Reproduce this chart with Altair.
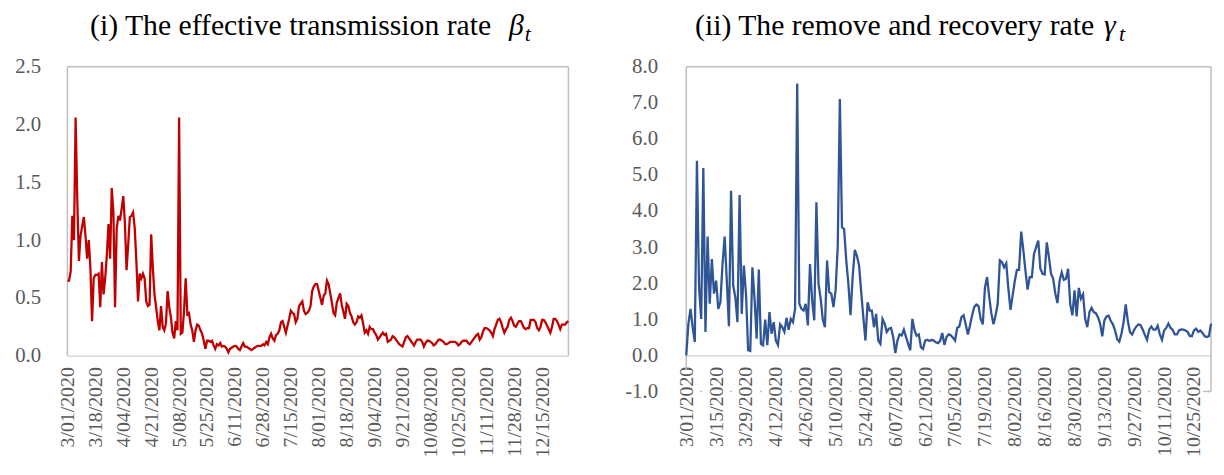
import altair as alt
import pandas as pd

# ---------------- data ----------------
# effective transmission rate beta_t, daily from 3/01/2020 to 12/31/2020
beta_values = [
    0.65, 0.65, 0.73, 1.21, 1.00, 2.06, 1.35, 0.82, 1.04, 1.12,
    1.20, 1.04, 0.84, 1.00, 0.76, 0.30, 0.67, 0.70, 0.70, 0.71,
    0.42, 0.81, 0.53, 0.67, 0.87, 1.14, 0.84, 1.45, 1.24, 0.42,
    1.10, 1.21, 1.17, 1.27, 1.38, 1.15, 0.74, 0.96, 1.20, 1.21,
    1.24, 1.10, 0.81, 0.47, 0.71, 0.67, 0.71, 0.67, 0.47, 0.43,
    0.44, 1.05, 0.76, 0.53, 0.42, 0.30, 0.22, 0.43, 0.25, 0.22,
    0.28, 0.56, 0.42, 0.33, 0.20, 0.15, 0.30, 0.22, 2.06, 0.19,
    0.20, 0.39, 0.67, 0.36, 0.37, 0.27, 0.22, 0.12, 0.22, 0.27,
    0.26, 0.22, 0.19, 0.13, 0.06, 0.13, 0.13, 0.12, 0.13, 0.09,
    0.06, 0.10, 0.09, 0.11, 0.08, 0.085, 0.08, 0.06, 0.03, 0.06,
    0.07, 0.08, 0.085, 0.08, 0.06, 0.05, 0.08, 0.11, 0.08, 0.08,
    0.07, 0.06, 0.05, 0.06, 0.07, 0.08, 0.085, 0.085, 0.085, 0.10,
    0.09, 0.12, 0.10, 0.16, 0.19, 0.15, 0.13, 0.18, 0.19, 0.22,
    0.29, 0.30, 0.25, 0.20, 0.26, 0.32, 0.39, 0.37, 0.36, 0.29,
    0.32, 0.43, 0.45, 0.47, 0.39, 0.36, 0.37, 0.39, 0.43, 0.56,
    0.60, 0.62, 0.62, 0.56, 0.50, 0.44, 0.52, 0.54, 0.65, 0.62,
    0.54, 0.46, 0.37, 0.35, 0.46, 0.50, 0.54, 0.44, 0.38, 0.32,
    0.45, 0.43, 0.37, 0.34, 0.29, 0.27, 0.29, 0.34, 0.33, 0.35,
    0.28, 0.20, 0.22, 0.19, 0.25, 0.23, 0.23, 0.20, 0.18, 0.14,
    0.16, 0.18, 0.20, 0.18, 0.19, 0.12, 0.13, 0.14, 0.17, 0.16,
    0.14, 0.12, 0.10, 0.09, 0.08, 0.12, 0.16, 0.17, 0.15, 0.13,
    0.11, 0.09, 0.12, 0.14, 0.14, 0.14, 0.12, 0.08, 0.11, 0.13,
    0.13, 0.12, 0.11, 0.09, 0.10, 0.12, 0.14, 0.14, 0.13, 0.12,
    0.10, 0.10, 0.11, 0.12, 0.12, 0.12, 0.12, 0.11, 0.09, 0.10,
    0.12, 0.13, 0.13, 0.13, 0.11, 0.10, 0.12, 0.14, 0.16, 0.18,
    0.19, 0.14, 0.16, 0.21, 0.24, 0.24, 0.23, 0.22, 0.20, 0.17,
    0.23, 0.27, 0.31, 0.32, 0.29, 0.24, 0.20, 0.23, 0.25, 0.31,
    0.33, 0.30, 0.26, 0.25, 0.28, 0.30, 0.30, 0.27, 0.24, 0.23,
    0.24, 0.24, 0.31, 0.31, 0.31, 0.29, 0.24, 0.22, 0.25, 0.31,
    0.31, 0.29, 0.26, 0.23, 0.20, 0.25, 0.32, 0.32, 0.30, 0.27,
    0.23, 0.27, 0.27, 0.27, 0.29, 0.30,
]

# remove and recovery rate gamma_t, daily from 3/01/2020 to 11/02/2020
gamma_values = [
    0.00, 0.88, 1.29, 0.78, 0.37, 5.39, 1.89, 1.01, 5.19, 0.65,
    3.29, 1.43, 2.67, 1.71, 2.07, 1.29, 1.47, 2.53, 3.29, 2.07,
    0.81, 4.56, 1.94, 1.61, 0.92, 4.44, 1.15, 2.49, 1.71, 0.14,
    0.12, 2.44, 1.57, 0.46, 2.38, 0.32, 0.28, 0.99, 0.28, 1.20,
    0.60, 0.92, 0.41, 0.29, 0.86, 0.78, 0.65, 1.04, 0.71, 1.01,
    0.92, 1.29, 7.53, 1.43, 1.29, 1.24, 1.43, 0.83, 2.53, 1.52,
    0.97, 4.24, 1.98, 1.57, 0.99, 0.78, 2.63, 1.75, 1.71, 1.34,
    1.80, 3.00, 7.10, 3.55, 3.50, 2.63, 1.98, 1.11, 2.17, 2.92,
    2.76, 2.49, 1.75, 1.06, 0.41, 1.47, 1.24, 1.24, 0.78, 1.15,
    0.41, 0.32, 1.01, 0.88, 0.65, 0.74, 0.76, 0.51, 0.06, 0.41,
    0.58, 0.55, 0.71, 0.51, 0.32, 0.14, 1.01, 0.70, 0.54, 0.58,
    0.23, 0.18, 0.41, 0.43, 0.40, 0.43, 0.41, 0.36, 0.34, 0.40,
    0.62, 0.29, 0.51, 0.58, 0.56, 0.49, 0.41, 0.76, 0.80, 1.06,
    1.11, 0.86, 0.58, 0.83, 1.11, 1.34, 1.41, 1.37, 1.01, 0.86,
    1.87, 2.17, 1.63, 1.17, 0.86, 1.11, 1.43, 2.63, 2.58, 2.44,
    2.55, 1.84, 1.26, 1.66, 2.06, 2.37, 2.37, 3.43, 2.92, 2.35,
    1.82, 2.17, 2.17, 2.81, 3.00, 3.18, 2.40, 2.26, 2.24, 3.13,
    2.72, 2.26, 2.12, 1.71, 1.45, 2.07, 2.30, 2.09, 2.12, 2.40,
    1.41, 1.11, 1.80, 1.08, 1.87, 1.57, 1.69, 1.01, 0.78, 1.20,
    1.32, 1.20, 1.17, 1.06, 0.88, 0.53, 0.97, 1.08, 1.10, 0.95,
    0.86, 0.69, 0.45, 0.38, 0.60, 0.92, 1.41, 0.95, 0.64, 0.58,
    0.71, 0.80, 0.86, 0.83, 0.71, 0.56, 0.43, 0.71, 0.80, 0.71,
    0.71, 0.82, 0.58, 0.43, 0.69, 0.76, 0.88, 0.76, 0.71, 0.58,
    0.58, 0.69, 0.72, 0.71, 0.69, 0.65, 0.54, 0.53, 0.69, 0.74,
    0.65, 0.69, 0.62, 0.53, 0.51, 0.53, 0.88,
]

beta_tick_days = list(range(0, 290, 17))     # 3/01 ... 12/15, every 17 days
gamma_tick_days = list(range(0, 239, 14))    # 3/01 ... 10/25, every 14 days
beta_y_ticks = [0.0, 0.5, 1.0, 1.5, 2.0, 2.5]
gamma_y_ticks = [-1, 0, 1, 2, 3, 4, 5, 6, 7, 8]

# ---------------- styling ----------------
FONT = "Liberation Serif"
LABEL_COLOR = "#595959"
FRAME = "#bfbfbf"
AXIS_LINE = "#d9d9d9"
X_LABEL_SIZE = 20
Y_LABEL_SIZE = 21
TITLE_SIZE = 30

W1, H1 = 506, 292
W2, H2 = 530, 328

# day index -> "m/dd/yyyy" (day 0 = 2020-03-01 UTC)
date_expr = "utcFormat(1583020800000 + datum.value * 86400000, '%-m/%d/%Y')"

one = alt.Data(values=[{}])

beta_df = pd.DataFrame({"day": list(range(len(beta_values))), "value": beta_values})
gamma_df = pd.DataFrame({"day": list(range(len(gamma_values))), "value": gamma_values})


def x_axis(values, **kw):
    return alt.Axis(
        values=values, labelExpr=date_expr, labelAngle=270, labelFlush=False,
        labelOverlap=False, ticks=False, grid=False, domainColor=AXIS_LINE,
        domainWidth=1.5, title=None, labelFont=FONT, labelFontSize=X_LABEL_SIZE,
        labelColor=LABEL_COLOR, **kw)


def y_axis(values, pad, **kw):
    return alt.Axis(
        values=values, ticks=False, domain=False, grid=False, title=None,
        labelFont=FONT, labelFontSize=Y_LABEL_SIZE, labelColor=LABEL_COLOR,
        labelPadding=pad, **kw)


def hrule(x1, x2, y, color=FRAME, **kw):
    return alt.Chart(one).mark_rule(color=color, strokeWidth=1.5, **kw).encode(
        x=alt.value(x1), x2=alt.value(x2), y=alt.value(y))


def vrule(x, y1, y2, color=FRAME, **kw):
    return alt.Chart(one).mark_rule(color=color, strokeWidth=1.5, **kw).encode(
        x=alt.value(x), y=alt.value(y1), y2=alt.value(y2))


def label(text, x, y, size, align="left", italic=False):
    props = dict(text=text, font=FONT, fontSize=size, align=align,
                 baseline="alphabetic", color="#000000")
    if italic:
        props["fontStyle"] = "italic"
    return alt.Chart(one).mark_text(**props).encode(x=alt.value(x), y=alt.value(y))


# ---------------- panel (i) ----------------
beta_line = alt.Chart(beta_df).mark_line(color="#C00000", strokeWidth=2.3).encode(
    x=alt.X("day:Q", scale=alt.Scale(domain=[0, len(beta_values) - 1], nice=False, zero=False),
            axis=x_axis(beta_tick_days, labelPadding=11)),
    y=alt.Y("value:Q", scale=alt.Scale(domain=[0, 2.5], nice=False),
            axis=y_axis(beta_y_ticks, 27, format=".1f")),
)

left = alt.layer(
    hrule(0, W1, 0), vrule(0, 0, H1), vrule(W1, 0, H1),
    beta_line,
    label("(i) The effective transmission rate", 428, -32, TITLE_SIZE, align="right"),
    label("β", 446, -32, TITLE_SIZE, italic=True),
    label("t", 462, -26, 22, italic=True),
).properties(width=W1, height=H1)

# ---------------- panel (ii) ----------------
zero_px = H2 * 8 / 9
period = 14 * W2 / (len(gamma_values) - 1)

gamma_line = alt.Chart(gamma_df).mark_line(color="#2F5597", strokeWidth=2.3).encode(
    x=alt.X("day:Q", scale=alt.Scale(domain=[0, len(gamma_values) - 1], nice=False, zero=False),
            axis=x_axis(gamma_tick_days, labelPadding=11, offset=-(H2 - zero_px))),
    y=alt.Y("value:Q", scale=alt.Scale(domain=[-1, 8], nice=False),
            axis=y_axis(gamma_y_ticks, 29,
                        labelExpr="datum.value < 0 ? '-' + format(-datum.value, '.1f') : format(datum.value, '.1f')")),
)

right = alt.layer(
    hrule(0, W2, 0), vrule(W2, 0, H2), vrule(0, 0, zero_px + 14),
    hrule(0, W2, H2, strokeDash=[2, period - 2], strokeDashOffset=period / 2 + 1),
    hrule(W2 - 8, W2, H2),
    gamma_line,
    label("(ii) The remove and recovery rate", 412, -32, TITLE_SIZE, align="right"),
    label("γ", 422, -32, TITLE_SIZE, italic=True),
    label("t", 437, -26, 22, italic=True),
).properties(width=W2, height=H2)

chart = alt.hconcat(left, right, spacing=51).properties(
    padding={"left": 6, "top": 1, "right": 0, "bottom": 0},
    background="white",
).configure_view(stroke=None)

chart.save("out.html", embed_options={"renderer": "svg", "actions": False})
